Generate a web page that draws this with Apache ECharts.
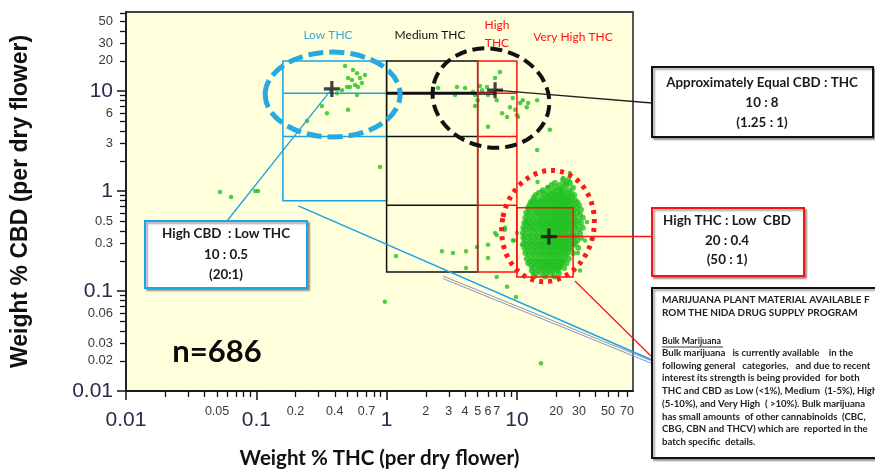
<!DOCTYPE html>
<html><head><meta charset="utf-8">
<script src="https://cdn.jsdelivr.net/npm/echarts@6/dist/echarts.min.js"></script>
<style>html,body{margin:0;padding:0;background:#fff}#c{width:875px;height:470px}</style>
</head><body><div id="c"></div>
<script>
// ---------- axis ticks / labels ----------
const xMajorTicks = [0.01, 0.1, 1, 10];
const xMinorTicks = [0.02,0.03,0.04,0.05,0.06,0.07,0.08,0.09,0.2,0.3,0.4,0.5,0.6,0.7,0.8,0.9,2,3,4,5,6,7,8,9,20,30,40,50,60,70];
const xLabelValues = [0.01,0.05,0.1,0.2,0.4,0.7,1,2,3,4,5,6,7,10,20,30,50,70];
const xLabelTexts  = ['0.01','0.05','0.1','0.2','0.4','0.7','1','2','3','4','5','6','7','10','20','30','50','70'];
const yMajorTicks = [0.01, 0.1, 1, 10];
const yMinorTicks = [0.02,0.03,0.04,0.05,0.06,0.07,0.08,0.09,0.2,0.3,0.4,0.5,0.6,0.7,0.8,0.9,2,3,4,5,6,7,8,9,20,30,40,50,60];
const yLabelValues = [0.01,0.02,0.03,0.06,0.1,0.3,0.5,1,3,6,10,20,30,50];
const yLabelTexts  = ['0.01','0.02','0.03','0.06','0.1','0.3','0.5','1','3','6','10','20','30','50'];
const bigLabels = [0.01, 0.1, 1, 10];
const xRange = [0.01, 77.8];
const yRange = [0.01, 61.7];

// ---------- scatter data: [THC %, CBD %] ----------
const lowThcPoints = [[0.552,16.2],[0.593,15.1],[0.506,13.5],[0.542,12.9],[0.625,13.5],[0.647,12.0],[0.572,11.5],[0.497,11.0],[0.524,11.0],[0.603,11.0],[0.593,9.1],[0.455,10.2],[0.416,9.5],[0.319,7.1],[0.349,6.0],[0.506,6.5],[0.245,5.0],[0.48,17.8],[0.682,14.5]];
const outlierPoints = [[0.0526,0.98],[0.064,0.87],[0.098,1.0],[0.103,1.0],[0.89,1.74],[1.18,0.224],[0.97,0.078],[2.66,0.25],[3.23,0.24],[4.07,0.25],[4.94,0.275],[4.07,0.17],[6.0,0.29],[6.0,0.214],[7.0,0.363],[7.0,0.138],[8.4,0.11],[9.84,0.087],[9.5,0.32],[8.1,0.41],[10.0,0.38],[15.3,0.019],[6.8,0.38],[9.3,0.32],[8.1,0.43],[11.9,0.49],[10.9,0.29]];
const mediumHighPoints = [[2.48,10.7],[3.47,11.0],[4.6,9.8],[5.2,11.2],[5.4,10.2],[5.9,11.0],[7.4,15.5],[6.8,13.5],[6.0,9.1],[4.77,9.1],[4.77,7.1],[6.0,4.4],[7.7,6.0],[8.4,5.5],[8.85,6.9],[9.7,6.5],[10.0,5.75],[10.6,7.6],[11.1,8.1],[11.9,6.9],[12.2,7.6],[14.3,8.1],[17.9,4.1],[14.3,2.57],[6.6,9.5],[5.0,8.1],[9.3,8.5],[10.2,5.5],[7.0,8.1],[4.0,10.7],[3.35,9.1]];
const clusterEdgePoints = [[25.5,1.51],[22.6,1.35],[14.4,1.23],[17.3,1.1],[15.8,0.98],[13.0,0.76],[34.5,0.49],[33.3,0.32],[29.4,0.24],[21.4,0.17],[15.8,0.17],[13.3,0.15],[30.5,0.16]];
// dense very-high-THC cluster, read row by row: [CBD %, [THC % ...]]
const clusterRows = [
 [1.29,[22.6,24.8]],
 [1.2,[19.6,23.5,25.5]],
 [1.15,[18.5,21.4,24.0]],
 [1.08,[17.3,20.2,22.6,26.9]],
 [1.02,[15.8,18.9,20.7,22.0,24.8]],
 [0.96,[14.8,17.3,19.0,21.4,23.5,26.0]],
 [0.91,[14.0,16.4,18.2,19.6,21.0,22.6,25.0,27.5]],
 [0.86,[13.5,15.5,17.0,18.5,20.0,21.4,23.0,24.5,26.5]],
 [0.81,[13.3,14.6,16.0,17.6,19.0,20.5,22.0,23.5,25.5,28.0]],
 [0.77,[12.8,14.2,15.5,16.8,18.2,19.6,21.0,22.6,24.0,26.0,29.0]],
 [0.72,[12.5,13.8,15.0,16.4,17.9,19.2,20.7,22.0,23.5,25.0,27.0,30.0]],
 [0.68,[12.2,13.5,14.6,16.0,17.3,18.6,20.0,21.4,22.8,24.2,26.0,28.5]],
 [0.65,[12.5,14.0,15.2,16.8,18.0,19.4,21.0,22.2,23.8,25.5,27.5,31.0]],
 [0.61,[11.8,13.0,14.4,15.8,17.0,18.4,19.8,21.2,22.6,24.5,26.5,29.0]],
 [0.58,[12.2,13.6,15.0,16.2,17.6,19.0,20.4,21.8,23.2,25.0,27.0,30.5]],
 [0.54,[11.6,12.8,14.2,15.5,16.8,18.2,19.6,21.0,22.4,24.0,25.8,28.0,32.0]],
 [0.51,[12.0,13.3,14.8,16.0,17.4,18.9,20.2,21.6,23.0,24.8,26.8,29.5]],
 [0.48,[11.4,12.6,13.9,15.2,16.6,18.0,19.4,20.8,22.2,23.8,25.5,27.5,31.0]],
 [0.46,[11.8,13.0,14.4,15.8,17.2,18.6,20.0,21.4,22.8,24.5,26.5,29.0]],
 [0.43,[11.2,12.4,13.6,15.0,16.4,17.8,19.2,20.6,22.0,23.6,25.2,27.8,32.0]],
 [0.41,[11.6,12.9,14.2,15.6,17.0,18.4,19.8,21.2,22.6,24.2,26.2,29.5]],
 [0.38,[11.1,12.3,13.6,15.0,16.4,17.6,19.0,20.4,21.8,23.4,25.0,27.0,30.5]],
 [0.36,[11.5,12.8,14.0,15.4,16.8,18.2,19.6,21.0,22.4,24.0,26.0,28.5]],
 [0.34,[11.2,12.4,13.7,15.0,16.2,17.6,19.0,20.4,21.8,23.4,25.2,27.5,31.0]],
 [0.32,[11.6,12.9,14.3,15.6,17.0,18.4,19.8,21.2,22.6,24.4,26.4,29.0]],
 [0.30,[11.3,12.5,13.8,15.2,16.5,17.9,19.3,20.7,22.0,23.6,25.5,28.0]],
 [0.29,[11.8,13.1,14.5,15.9,17.2,18.6,20.0,21.4,23.0,24.8,27.0]],
 [0.27,[11.4,12.6,14.0,15.4,16.8,18.2,19.6,21.0,22.4,24.0,26.0,29.5]],
 [0.26,[12.0,13.3,14.7,16.0,17.5,18.9,20.3,21.8,23.4,25.2]],
 [0.24,[11.6,12.9,14.2,15.6,17.0,18.4,19.8,21.2,22.8,24.5,27.0]],
 [0.23,[12.3,13.6,15.0,16.4,17.8,19.2,20.6,22.0,23.8]],
 [0.21,[11.9,13.2,14.5,15.9,17.3,18.7,20.1,21.6,23.2,25.0]],
 [0.20,[12.6,14.0,15.3,16.7,18.1,19.5,21.0,22.5]],
 [0.19,[12.2,13.5,14.8,16.2,17.6,19.0,20.4,22.0,24.0]],
 [0.18,[12.9,14.3,15.7,17.1,18.5,20.0,21.5]],
 [0.17,[13.4,14.9,16.3,17.8,19.3,20.8,23.0]],
 [0.16,[13.0,14.5,16.0,17.5,19.0,20.5]],
 [0.15,[14.0,15.5,17.0,18.5,21.0]],
 [0.14,[13.5,16.5,19.5]]
];
// mean markers (+)
const meanX = [0.38, 6.8, 17.6];
const meanY = [10.5, 10.2, 0.35];

// ---------- category boxes (data units) ----------
const thcEdges = [0.16, 1, 5, 10, 27];
const cbdEdges = [20, 9.5, 3.5, 0.72, 0.155];
const lowBoxBottom = 0.8;
const veryHighBox = [0.68, 0.138];
const blueEllipse  = [0.117, 1.27, 3.47, 24.5];
const blackEllipse = [2.23, 17.9, 2.75, 26.3];
const redEllipse   = [7.7, 39, 0.123, 1.62];

const clusterPoints = [];
clusterRows.forEach(r => r[1].forEach(x => clusterPoints.push([x, r[0]])));
const sparsePoints = [].concat(lowThcPoints, outlierPoints, mediumHighPoints, clusterEdgePoints);

function fmt(list, texts, v) {
  let best = 0, bd = 1e9;
  for (let i = 0; i < list.length; i++) {
    const d = Math.abs(Math.log10(v) - Math.log10(list[i]));
    if (d < bd) { bd = d; best = i; }
  }
  const isBig = bigLabels.indexOf(list[best]) >= 0;
  return isBig ? '{b|' + texts[best] + '}' : '{s|' + texts[best] + '}';
}

const chart = echarts.init(document.getElementById('c'));
const gridL = 126, gridT = 12, gridR = 242, gridB = 79;
const labelColor = '#2b2b4a';
const richX = {
  b: {fontSize: 21, fontFamily: 'Liberation Sans', color: labelColor, padding: [5, 0, 0, 0]},
  s: {fontSize: 12.5, fontFamily: 'Liberation Sans', color: '#3a3a3a'}
};
const richY = {
  b: {fontSize: 21, fontFamily: 'Liberation Sans', color: labelColor},
  s: {fontSize: 13, fontFamily: 'Liberation Sans', color: '#3a3a3a'}
};

chart.setOption({
  animation: false,
  backgroundColor: '#ffffff',
  grid: {left: gridL, top: gridT, right: gridR, bottom: gridB, show: true, outerBoundsMode: 'none', containLabel: false,
         backgroundColor: '#FFFFDC', borderColor: '#444', borderWidth: 1.8},
  xAxis: [
    {type: 'log', logBase: 10, min: xRange[0], max: xRange[1], position: 'bottom',
     name: 'Weight % THC (per dry flower)', nameLocation: 'middle', nameGap: 57,
     nameTextStyle: {fontFamily: 'Lato', fontWeight: 'bold', fontSize: 20.5, color: '#111'},
     axisLine: {show: true, lineStyle: {color: '#111', width: 1.5}},
     axisTick: {show: true, customValues: xMajorTicks, length: 9, lineStyle: {color: '#111', width: 1.5}},
     axisLabel: {customValues: xLabelValues, margin: 14, formatter: v => fmt(xLabelValues, xLabelTexts, v), rich: richX},
     splitLine: {show: false}, minorTick: {show: false}},
    {type: 'log', logBase: 10, min: xRange[0], max: xRange[1], position: 'bottom',
     axisLine: {show: false},
     axisTick: {show: true, customValues: xMinorTicks, length: 6, lineStyle: {color: '#111', width: 1.3}},
     axisLabel: {show: false}, splitLine: {show: false}}
  ],
  yAxis: [
    {type: 'log', logBase: 10, min: yRange[0], max: yRange[1], position: 'left',
     name: 'Weight % CBD (per dry flower)', nameLocation: 'middle', nameGap: 94,
     nameTextStyle: {fontFamily: 'Liberation Sans', fontWeight: 'bold', fontSize: 23, color: '#111'},
     axisLine: {show: true, lineStyle: {color: '#111', width: 1.5}},
     axisTick: {show: true, customValues: yMajorTicks, length: 9, lineStyle: {color: '#111', width: 1.5}},
     axisLabel: {customValues: yLabelValues, margin: 13, formatter: v => fmt(yLabelValues, yLabelTexts, v), rich: richY},
     splitLine: {show: false}, minorTick: {show: false}},
    {type: 'log', logBase: 10, min: yRange[0], max: yRange[1], position: 'left',
     axisLine: {show: false},
     axisTick: {show: true, customValues: yMinorTicks, length: 6, lineStyle: {color: '#111', width: 1.3}},
     axisLabel: {show: false}, splitLine: {show: false}}
  ],
  series: [
    {type: 'scatter', xAxisIndex: 0, yAxisIndex: 0, data: sparsePoints, symbol: 'circle', symbolSize: 4.5,
     itemStyle: {color: '#22c022'}, z: 2, silent: true},
    {type: 'scatter', xAxisIndex: 0, yAxisIndex: 0, data: clusterPoints, symbol: 'circle', symbolSize: 6,
     itemStyle: {color: '#22c022'}, z: 2, silent: true},
    {type: 'scatter', xAxisIndex: 0, yAxisIndex: 0, data: meanX.map((x, i) => [x, meanY[i]]),
     symbol: 'path://M-1.6,-8 L1.6,-8 L1.6,-1.6 L8,-1.6 L8,1.6 L1.6,1.6 L1.6,8 L-1.6,8 L-1.6,1.6 L-8,1.6 L-8,-1.6 L-1.6,-1.6 Z',
     symbolSize: 16, itemStyle: {color: '#111'}, z: 200, silent: true}
  ]
});

function P(x, y) { return chart.convertToPixel({gridIndex: 0}, [x, y]); }
const g = [];
const BLUE = '#1ea3e2', RED = '#ff1010', BLK = '#111';
function rectD(x0, x1, y0, y1, color, w) {
  const a = P(x0, y1), b = P(x1, y0);
  g.push({type: 'rect', z: 50, silent: true, shape: {x: a[0], y: a[1], width: b[0] - a[0], height: b[1] - a[1]},
          style: {fill: 'none', stroke: color, lineWidth: w}});
}
function hlineD(x0, x1, y, color, w) {
  const a = P(x0, y), b = P(x1, y);
  g.push({type: 'line', z: 50, silent: true, shape: {x1: a[0], y1: a[1], x2: b[0], y2: b[1]}, style: {stroke: color, lineWidth: w}});
}
function lineP(a, b, color, w) {
  g.push({type: 'line', z: 55, silent: true, shape: {x1: a[0], y1: a[1], x2: b[0], y2: b[1]}, style: {stroke: color, lineWidth: w}});
}
function ellipseD(e, color, w, dash, rot) {
  const a = P(e[0], e[3]), b = P(e[1], e[2]);
  const cx = (a[0] + b[0]) / 2, cy = (a[1] + b[1]) / 2;
  g.push({type: 'ellipse', z: 60, silent: true, shape: {cx: cx, cy: cy, rx: (b[0] - a[0]) / 2, ry: (b[1] - a[1]) / 2},
          rotation: rot || 0, originX: cx, originY: cy,
          style: {fill: 'none', stroke: color, lineWidth: w, lineDash: dash}});
}
// category boxes
rectD(thcEdges[0], thcEdges[1], lowBoxBottom, cbdEdges[0], BLUE, 1.5);
hlineD(thcEdges[0], thcEdges[1], cbdEdges[1], BLUE, 1.5);
hlineD(thcEdges[0], thcEdges[1], cbdEdges[2], BLUE, 1.5);
rectD(thcEdges[1], thcEdges[2], cbdEdges[4], cbdEdges[0], BLK, 1.5);
hlineD(thcEdges[1], thcEdges[2], cbdEdges[2], BLK, 1.5);
hlineD(thcEdges[1], thcEdges[2], cbdEdges[3], BLK, 1.5);
hlineD(thcEdges[1], meanX[1], cbdEdges[1], BLK, 3);
rectD(thcEdges[2], thcEdges[3], cbdEdges[4], cbdEdges[0], RED, 1.5);
hlineD(thcEdges[2], thcEdges[3], cbdEdges[1], RED, 1.5);
hlineD(thcEdges[2], thcEdges[3], cbdEdges[2], RED, 1.5);
hlineD(thcEdges[2], thcEdges[3], cbdEdges[3], RED, 1.5);
rectD(thcEdges[3], thcEdges[4], veryHighBox[1], veryHighBox[0], RED, 1.5);
// ellipses
ellipseD(blueEllipse, '#2aa8e2', 5, [15, 6], 0);
ellipseD(blackEllipse, '#111', 4, [12, 6], -0.25);
ellipseD(redEllipse, '#ff1a1a', 5, [4, 5], -0.2);

// connectors to annotation boxes
const mB = P(meanX[0], meanY[0]), mK = P(meanX[1], meanY[1]), mR = P(meanX[2], meanY[2]);
lineP(mK, [652, 103], '#222', 1.3);
lineP(mR, [652, mR[1]], RED, 1.5);
lineP(mB, [227, 221], BLUE, 1.3);
lineP(P(0.21, 0.71), [652, 360], BLUE, 1.5);
const gs = P(2.71, 0.141);
lineP(gs, [652, 361], '#8a92c4', 1);
lineP([gs[0], gs[1] + 2.5], [652, 363.5], '#8a92c4', 1);
lineP(P(27.9, 0.126), [652, 357], RED, 1.2);

// region titles
function txt(x, y, s, o) {
  g.push({type: 'text', z: 70, silent: true, x: x, y: y,
          style: Object.assign({text: s, fontFamily: 'Lato', fontSize: 11, fill: '#111', align: 'center', verticalAlign: 'middle'}, o || {})});
}
txt(328, 35, 'Low THC', {fill: '#3aa8dc', fontSize: 12});
txt(430, 35, 'Medium THC', {fill: '#111', fontSize: 12});
txt(497, 25, 'High', {fill: RED, fontSize: 12});
txt(497, 43, 'THC', {fill: RED, fontSize: 12});
txt(573, 37, 'Very High THC', {fill: RED, fontSize: 12});
txt(217, 352, 'n=686', {fontSize: 31, fontWeight: 'bold', fill: '#0a0a0a'});

// annotation boxes
function box(x, y, w, h, color) {
  g.push({type: 'rect', z: 65, silent: true, shape: {x: x, y: y, width: w, height: h},
          style: {fill: '#fff', stroke: color, lineWidth: 2, shadowBlur: 2, shadowOffsetX: 2, shadowOffsetY: 2, shadowColor: 'rgba(0,0,0,0.35)'}});
}
const bold = {fontWeight: 'bold', fontSize: 13.4, fill: '#1a1a1a'};
box(652, 67, 221, 70, '#111');
txt(762, 83, 'Approximately Equal CBD : THC', bold);
txt(762, 103, '10 : 8', bold);
txt(762, 123, '(1.25 : 1)', bold);
box(652, 208, 152, 68, RED);
txt(727, 221, 'High THC : Low  CBD', bold);
txt(727, 241, '20 : 0.4', bold);
txt(727, 260, '(50 : 1)', bold);
box(145, 221, 162, 67, BLUE);
txt(226, 234, 'High CBD  : Low THC', bold);
txt(226, 255, '10 : 0.5', bold);
txt(226, 275, '(20:1)', bold);
box(652, 288, 232, 170, '#111');
const left = {align: 'left', fontWeight: 'bold', fill: '#222'};
txt(662, 300, 'MARIJUANA PLANT MATERIAL AVAILABLE F', Object.assign({}, left, {fontSize: 10}));
txt(662, 313, 'ROM THE NIDA DRUG SUPPLY PROGRAM', Object.assign({}, left, {fontSize: 10}));
txt(662, 341, 'Bulk Marijuana', Object.assign({}, left, {fontSize: 8.8}));
g.push({type: 'line', z: 70, silent: true, shape: {x1: 662, y1: 347, x2: 723, y2: 347}, style: {stroke: '#222', lineWidth: 0.9}});
const bodyLines = [
  'Bulk marijuana   is currently available    in the',
  'following general   categories,   and due to recent',
  'interest its strength is being provided  for both',
  'THC and CBD as Low (<1%), Medium  (1-5%), High',
  '(5-10%), and Very High  ( >10%). Bulk marijuana',
  'has small amounts  of other cannabinoids  (CBC,',
  'CBG, CBN and THCV) which are  reported in the',
  'batch specific  details.'
];
bodyLines.forEach((s, i) => txt(662, 353 + i * 12.7, s, Object.assign({}, left, {fontSize: 9.6})));

chart.setOption({graphic: {elements: g}});
</script></body></html>
